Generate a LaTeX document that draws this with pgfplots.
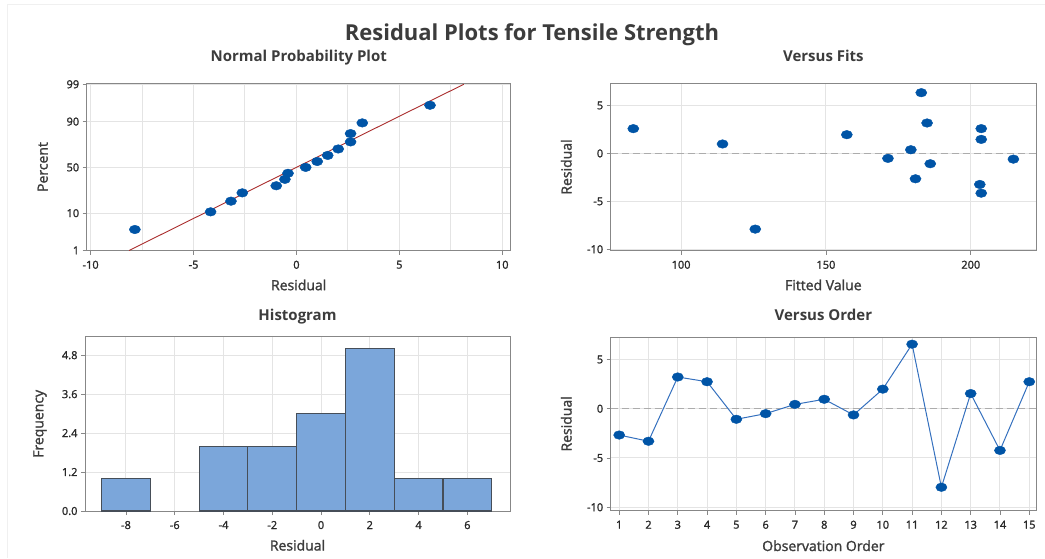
\documentclass[border=0pt]{standalone}
\usepackage{pgfplots}
\pgfplotsset{compat=1.18}
\usepackage{fontspec}
\setmainfont{Open Sans}
\newfontfamily\semib[FakeBold=1.6]{Open Sans}

\definecolor{mblue}{RGB}{0,84,166}
\definecolor{lblue}{RGB}{52,112,190}
\definecolor{framegray}{RGB}{135,135,135}
\definecolor{gridgray}{RGB}{228,228,228}
\definecolor{tickgray}{RGB}{40,40,40}
\definecolor{labgray}{RGB}{60,60,60}
\definecolor{fitred}{RGB}{170,45,45}
\definecolor{histfill}{RGB}{123,166,218}
\definecolor{histedge}{RGB}{70,78,88}

\pgfplotsset{
  mystyle/.style={
    scale only axis,
    axis line style={draw=framegray, line width=1pt},
    grid=major,
    major grid style={draw=gridgray, line width=1pt},
    tick style={draw=framegray, line width=0.8pt},
    tick align=outside, major tick length=4pt,
    tick pos=left,
    ticklabel style={font=\semib\fontsize{11}{12}\selectfont, text=tickgray},
    xticklabel style={yshift=-2.5pt},
    /pgf/number format/assume math mode=true,
    label style={font=\semib\fontsize{14}{16}\selectfont, text=labgray},
    title style={font=\fontsize{15}{17}\selectfont\bfseries, text=labgray,
      at={(axis description cs:0.5,1)}, anchor=base, inner sep=0pt},
    xlabel style={at={(axis description cs:0.5,0)}, anchor=base, inner sep=0pt, yshift=-39.5pt},
  },
  dot/.style={only marks, mark=*, mark size=4.3pt, color=mblue, mark options={xscale=1.3, draw=mblue, fill=mblue}},
}

\pgfplotstableread{
res z
-7.85 -1.7395
-4.17 -1.2450
-3.18 -0.9458
-2.63 -0.7137
-0.98 -0.5150
-0.56 -0.3349
-0.41 -0.1651
0.45 0
1.01 0.1651
1.52 0.3349
2.03 0.5150
2.63 0.7137
2.63 0.9458
3.20 1.2450
6.49 1.7395
}\npp

\pgfplotstableread{
fit res
83.5 2.58
114.3 0.98
125.6 -7.9
157.2 1.95
171.4 -0.52
179.3 0.38
180.9 -2.65
182.9 6.33
184.9 3.17
186.0 -1.08
203.6 2.58
203.6 1.46
203.1 -3.24
203.6 -4.15
214.7 -0.6
}\fits

\pgfplotstableread{
obs res
1 -2.67
2 -3.3
3 3.22
4 2.74
5 -1.07
6 -0.5
7 0.44
8 0.96
9 -0.63
10 1.99
11 6.55
12 -7.97
13 1.54
14 -4.23
15 2.74
}\order

\begin{document}
\begin{tikzpicture}
\path[use as bounding box] (0pt,0pt) rectangle (1045pt,558pt);
\draw[gray!12, line width=1pt] (7pt,0pt) -- (7pt,553pt) -- (1045pt,553pt);
\node[anchor=base, font=\fontsize{22}{26}\selectfont\bfseries, text=labgray, inner sep=0pt] at (532pt,517pt) {Residual Plots for Tensile Strength};

% Normal probability plot
\begin{axis}[mystyle, at={(86.7pt,474.7pt)}, anchor=north west, width=424pt, height=167.4pt,
  xmin=-10.19, xmax=10.41, ymin=-2.333, ymax=2.354,
  xtick={-10,-5,0,5,10}, minor xtick={-7.5,-2.5,2.5,7.5},
  minor grid style={draw=gridgray, line width=1pt}, xminorgrids=true,
  minor tick length=0pt,
  ytick={-2.3263,-1.2816,0,1.2816,2.3263}, yticklabels={1,10,50,90,99},
  title={Normal Probability Plot}, title style={yshift=16pt},
  xlabel={Residual}, ylabel={Percent},
  ylabel style={at={(axis description cs:-0.092,0.5)}, anchor=base, inner sep=0pt}]
\addplot[fitred, line width=0.9pt] coordinates {(-8.13,-2.3263) (8.13,2.3263)};
\addplot[dot] table[x=res, y=z] {\npp};
\end{axis}

% Versus fits
\begin{axis}[mystyle, at={(610.7pt,474.7pt)}, anchor=north west, width=425.3pt, height=167.4pt,
  xmin=75.7, xmax=222.5, ymin=-10.15, ymax=7.31,
  xtick={100,150,200}, ytick={-10,-5,0,5},
  title={Versus Fits}, title style={yshift=16pt},
  xlabel={Fitted Value}, ylabel={Residual},
  ylabel style={at={(axis description cs:-0.092,0.5)}, anchor=base, inner sep=0pt}]
\addplot[gray!65, line width=1pt, dash pattern=on 7pt off 4pt] coordinates {(75.7,0) (222.5,0)};
\addplot[dot] table[x=fit, y=res] {\fits};
\end{axis}

% Histogram
\begin{axis}[mystyle, at={(85pt,221.3pt)}, anchor=north west, width=425pt, height=174.3pt,
  xmin=-9.68, xmax=7.75, ymin=0, ymax=5.37,
  xtick={-8,-6,-4,-2,0,2,4,6}, ytick={0,1.2,2.4,3.6,4.8},
  yticklabels={0.0,1.2,2.4,3.6,4.8},
  title={Histogram}, title style={yshift=10pt},
  xlabel={Residual}, ylabel={Frequency},
  ylabel style={at={(axis description cs:-0.098,0.5)}, anchor=base, inner sep=0pt}]
\addplot[ybar interval, fill=histfill, draw=histedge, line width=1.1pt]
  coordinates {(-9,1) (-7,1)};
\addplot[ybar interval, fill=histfill, draw=histedge, line width=1.1pt]
  coordinates {(-5,2) (-3,2) (-1,3) (1,5) (3,1) (5,1) (7,1)};
\end{axis}

% Versus order
\begin{axis}[mystyle, at={(610.7pt,221pt)}, anchor=north west, width=425.3pt, height=173.7pt,
  xmin=0.71, xmax=15.23, ymin=-10.35, ymax=7.28,
  xtick={1,...,15}, ytick={-10,-5,0,5},
  title={Versus Order}, title style={yshift=10.3pt},
  xlabel={Observation Order}, ylabel={Residual},
  xlabel style={yshift=-0.8pt},
  ylabel style={at={(axis description cs:-0.092,0.5)}, anchor=base, inner sep=0pt}]
\addplot[gray!65, line width=1pt, dash pattern=on 7pt off 4pt] coordinates {(0.71,0) (15.23,0)};
\addplot[lblue, line width=1pt] table[x=obs, y=res] {\order};
\addplot[dot] table[x=obs, y=res] {\order};
\end{axis}
\end{tikzpicture}
\end{document}
